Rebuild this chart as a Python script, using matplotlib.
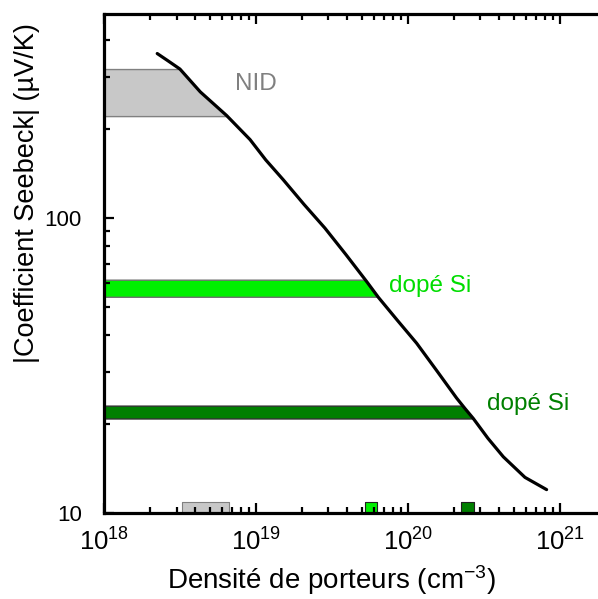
import numpy as np
import matplotlib
matplotlib.use('Agg')
import matplotlib.pyplot as plt
from matplotlib.ticker import FuncFormatter, NullFormatter

plt.rcParams['font.family'] = ['Liberation Sans', 'DejaVu Sans']
plt.rcParams['mathtext.fontset'] = 'custom'
plt.rcParams['mathtext.rm'] = 'Liberation Sans'
plt.rcParams['mathtext.default'] = 'regular'

# Seebeck curve
n_curve = [2.24e18, 2.64e18, 3.16e18, 4.3e18, 6.41e18, 9.14e18, 1.16e19,
           1.51e19, 2.07e19, 2.84e19, 3.91e19, 5.35e19, 6.38e19, 8.47e19,
           1.14e20, 1.55e20, 2.09e20, 2.37e20, 2.69e20, 3.36e20, 4.24e20,
           5.89e20, 8.17e20]
s_curve = [360, 340, 319, 267, 222, 184, 157,
           134.6, 111, 92.3, 75, 60.8, 53.8, 45.1,
           37.6, 30.3, 24.5, 22.6, 20.9, 17.9, 15.5,
           13.2, 12.0]

# measured Seebeck ranges (bands)
band_names = ['NID', 'dopé Si', 'dopé Si']
band_low = [221, 54, 20.9]
band_high = [319, 61.7, 23.1]
band_fill = ['#c8c8c8', '#00f000', '#007f00']
band_edge = ['#808080', '#707070', '#303030']
text_col = ['#808080', '#00dd00', '#008000']

# carrier density ranges marked on the x axis
mark_lo = [3.28e18, 5.25e19, 2.23e20]
mark_hi = [6.64e18, 6.3e19, 2.71e20]
mark_edge = ['#808080', '#202020', '#202020']

fig = plt.figure(figsize=(5.98, 5.99), dpi=100)
ax = fig.add_axes([0.1739, 0.1436, 0.8261, 0.833])
ax.set_xscale('log')
ax.set_yscale('log')
ax.set_xlim(1e18, 1.78e21)
ax.set_ylim(10, 490)

ln_n = np.log10(n_curve)[::-1]
ln_s = np.log10(s_curve)[::-1]
for lo, hi, fc, ec in zip(band_low, band_high, band_fill, band_edge):
    yy = np.geomspace(lo, hi, 30)
    xx = 10 ** np.interp(np.log10(yy), ln_s, ln_n)
    ax.fill_betweenx(yy, 1e18, xx, facecolor=fc, edgecolor=ec, lw=1.0, zorder=1)

for x0, x1, fc, ec in zip(mark_lo, mark_hi, band_fill, mark_edge):
    ax.fill_between([x0, x1], 10, 10.9, facecolor=fc, edgecolor=ec, lw=0.8, zorder=1)

ax.plot(n_curve, s_curve, color='black', lw=2.3, zorder=3,
        solid_capstyle='round', solid_joinstyle='round')

ax.text(7.27e18, 270, band_names[0], color=text_col[0], fontsize=17.5, va='baseline')
ax.text(7.5e19, 56.2, band_names[1], color=text_col[1], fontsize=17.5, va='baseline')
ax.text(3.3e20, 22.3, band_names[2], color=text_col[2], fontsize=17.5, va='baseline')

ax.spines['right'].set_visible(False)
for s in ['left', 'top', 'bottom']:
    ax.spines[s].set_linewidth(2.3)
    ax.spines[s].set_zorder(4)

ax.tick_params(which='both', direction='in', top=True, right=False, width=1.6)
ax.tick_params(which='major', length=7)
ax.tick_params(which='minor', length=4)
ax.tick_params(axis='x', which='major', labelsize=18.5, pad=11)
ax.tick_params(axis='y', which='major', labelsize=16, pad=16)
ax.yaxis.set_major_formatter(FuncFormatter(lambda v, p: '%g' % v))
ax.yaxis.set_minor_formatter(NullFormatter())
ax.xaxis.set_minor_formatter(NullFormatter())

ax.set_xlabel('Densité de porteurs (cm$^{-3}$)', fontsize=20)
ax.set_ylabel('|Coefficient Seebeck| (µV/K)', fontsize=19.5)
ax.xaxis.set_label_coords(0.46, -0.10)
ax.yaxis.set_label_coords(-0.13, 0.641)

fig.savefig('out.png', dpi=100)
